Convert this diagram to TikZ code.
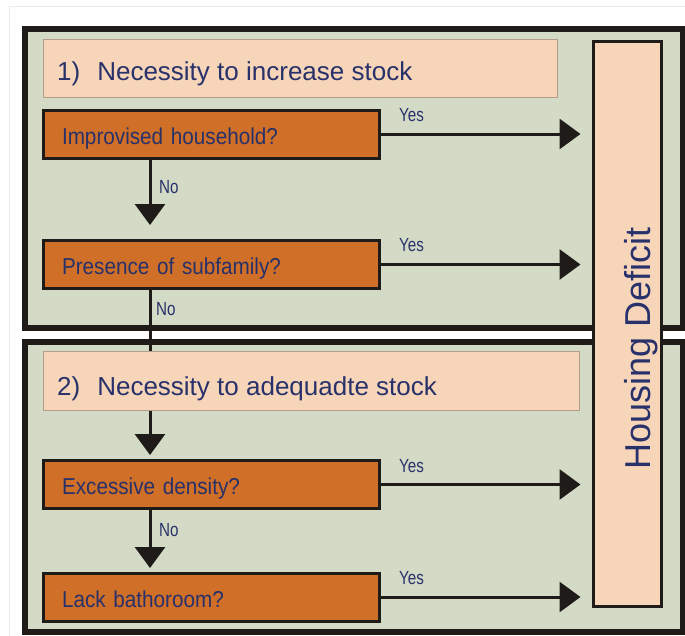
\documentclass[tikz,border=0pt]{standalone}
\usepackage{fontspec}
\setmainfont{Liberation Sans}
\newfontfamily\qsans[FakeStretch=0.9]{Liberation Sans}
\newfontfamily\lblsans[FakeStretch=0.8]{Liberation Sans}
\usetikzlibrary{arrows.meta}
\definecolor{panelgreen}{HTML}{D3DBC6}
\definecolor{peach}{HTML}{F6D5B9}
\definecolor{peachline}{HTML}{B59C88}
\definecolor{qorange}{HTML}{CF6F28}
\definecolor{navy}{HTML}{28316A}
\definecolor{framedark}{HTML}{1E1B18}
\tikzset{
  panel/.style={draw=framedark, line width=6pt, fill=panelgreen},
  titlebox/.style={draw=peachline, line width=1pt, fill=peach},
  qbox/.style={draw=framedark, line width=3pt, fill=qorange, minimum width=336pt,
    minimum height=48pt, inner xsep=18.5pt, text width=299pt, align=left,
    text height=20pt, text depth=0pt,
    text=navy, font=\qsans\fontsize{23}{26}\selectfont},
  titletext/.style={text=navy, font=\fontsize{26}{30}\selectfont, anchor=base west, inner sep=0pt},
  lbl/.style={text=navy, font=\lblsans\fontsize{19}{22}\selectfont, anchor=base west, inner sep=0pt},
  arr/.style={draw=framedark, line width=3pt, -{Triangle[length=21pt,width=30pt]}},
  hdbox/.style={draw=framedark, line width=3pt, fill=peach, minimum width=68pt, minimum height=565pt},
}
\begin{document}
\begin{tikzpicture}[x=1pt,y=-1pt]
\useasboundingbox (0,0) rectangle (685,635);
\fill[white] (0,0) rectangle (685,635);
\draw[draw=black!8, line width=0.8pt] (9.6,6) rectangle (700,650);
% panels
\path[panel] (25,29) rectangle (683,327.5);
\path[panel] (25,342) rectangle (683,632);
% housing deficit
\node[hdbox] (hd) at (627.5,324) {};
\node[text=navy, font=\fontsize{36}{40}\selectfont, rotate=90, anchor=base, inner sep=0pt] (hdt) at (650,348) {Housing Deficit};
% question boxes
\node[qbox] (q1) at (211.5,134) {Improvised household?};
\node[qbox] (q2) at (211.5,264.5) {Presence of subfamily?};
\node[qbox] (q3) at (211.5,484.5) {Excessive density?};
\node[qbox] (q4) at (211.5,597) {Lack bathoroom?};
% vertical connectors
\coordinate (c1) at (150,225);
\coordinate (c2) at (150,455);
\coordinate (c3) at (150,568);
\draw[arr] (q1.south -| c1) -- (c1);
\draw[arr] (q2.south -| c2) -- (c2);
\draw[arr] (q3.south -| c3) -- (c3);
% title boxes (drawn over the connector)
\node[titlebox, minimum width=514pt, minimum height=58pt, anchor=north west] (t1) at (42.5,38.5) {};
\node[titletext] (t1t) at (57,80) {1)\hspace{17pt}Necessity to increase stock};
\node[titlebox, minimum width=536pt, minimum height=59pt, anchor=north west] (t2) at (42.5,351) {};
\node[titletext] (t2t) at (57,395) {2)\hspace{17pt}Necessity to adequadte stock};
% horizontal connectors
\draw[arr, shorten >=11.5pt] (q1.east) -- (q1.east -| hd.west);
\draw[arr, shorten >=11.5pt] (q2.east) -- (q2.east -| hd.west);
\draw[arr, shorten >=11.5pt] (q3.east) -- (q3.east -| hd.west);
\draw[arr, shorten >=11.5pt] (q4.east) -- (q4.east -| hd.west);
% labels
\node[lbl] (y1) at (399,121) {Yes};
\node[lbl] (y2) at (399,251) {Yes};
\node[lbl] (y3) at (399,472) {Yes};
\node[lbl] (y4) at (399,584) {Yes};
\node[lbl] (n1) at (159,193) {No};
\node[lbl] (n2) at (156,315) {No};
\node[lbl] (n3) at (159,536) {No};
\end{tikzpicture}
\end{document}
